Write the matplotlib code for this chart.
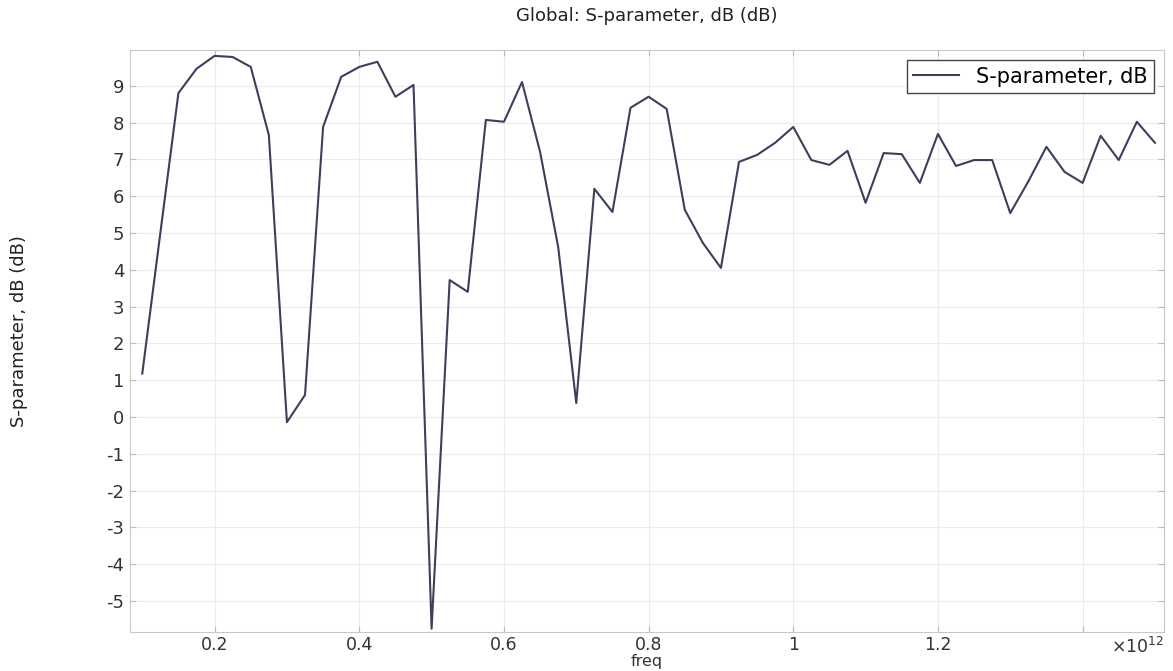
import numpy as np
import matplotlib
matplotlib.use('Agg')
import matplotlib.pyplot as plt

# frequency (x 1e12 Hz) and S-parameter (dB)
freq = [0.1, 0.125, 0.15, 0.175, 0.2, 0.225, 0.25, 0.275, 0.3, 0.325,
        0.35, 0.375, 0.4, 0.425, 0.45, 0.475, 0.5, 0.525, 0.55, 0.575,
        0.6, 0.625, 0.65, 0.675, 0.7, 0.725, 0.75, 0.775, 0.8, 0.825,
        0.85, 0.875, 0.9, 0.925, 0.95, 0.975, 1.0, 1.025, 1.05, 1.075,
        1.1, 1.125, 1.15, 1.175, 1.2, 1.225, 1.25, 1.275, 1.3, 1.325,
        1.35, 1.375, 1.4, 1.425, 1.45, 1.475, 1.5]
sparam = [1.18, 5.0, 8.80, 9.46, 9.81, 9.78, 9.51, 7.66, -0.14, 0.60,
          7.88, 9.24, 9.51, 9.65, 8.70, 9.02, -5.75, 3.72, 3.40, 8.07,
          8.02, 9.10, 7.2, 4.62, 0.38, 6.20, 5.57, 8.40, 8.70, 8.37,
          5.63, 4.73, 4.05, 6.93, 7.12, 7.45, 7.88, 6.98, 6.85, 7.23,
          5.82, 7.17, 7.14, 6.36, 7.69, 6.82, 6.98, 6.98, 5.54, 6.4,
          7.34, 6.66, 6.36, 7.64, 6.98, 8.02, 7.45]

xticks = [0.2, 0.4, 0.6, 0.8, 1.0, 1.2, 1.4]
xticklabels = ['0.2', '0.4', '0.6', '0.8', '1', '1.2', '']
yticks = list(range(-5, 10))
yticklabels = [str(v) for v in yticks]   # plain hyphen minus, as in the reference

fig = plt.figure(figsize=(11.73, 6.71), dpi=100)
ax = fig.add_axes([0.1108, 0.0581, 0.8815, 0.8674])

ax.plot(freq, sparam, color='#3b3f5e', linewidth=1.5, label='S-parameter, dB')

ax.set_xlim(0.083, 1.5125)
ax.set_ylim(-5.84, 9.97)
ax.set_xticks(xticks)
ax.set_xticklabels(xticklabels)
ax.set_yticks(yticks)
ax.set_yticklabels(yticklabels)
ax.grid(True, color='#ececec', linewidth=0.8)
ax.tick_params(direction='in', length=4, color='#bbbbbb', labelsize=13,
               labelcolor='#333333', top=True, right=True, pad=4)
ax.tick_params(axis='x', labelsize=12.5, pad=3)
for s in ax.spines.values():
    s.set_color('#c8c8c8')

ax.text(1.0, -0.036, r'$\times10^{12}$', transform=ax.transAxes, ha='right',
        va='baseline', fontsize=12.5, color='#333333')
ax.set_xlabel('freq', fontsize=11.5, color='#333333', labelpad=0)

fig.text(0.5514, 0.976, 'Global: S-parameter, dB (dB)', ha='center', va='center',
         fontsize=13, color='#222222')
fig.text(0.016, 0.507, 'S-parameter, dB (dB)', rotation=90, ha='center', va='center',
         fontsize=13, color='#222222',
         family=['Liberation Sans Narrow', 'DejaVu Sans Condensed', 'DejaVu Sans'])

leg = ax.legend(loc='upper right', fontsize=15, fancybox=False, framealpha=1,
                edgecolor='#444444', handlelength=2.2, borderaxespad=0.5,
                borderpad=0.3)
leg.get_frame().set_linewidth(1.0)

plt.savefig('out.png', dpi=100)
